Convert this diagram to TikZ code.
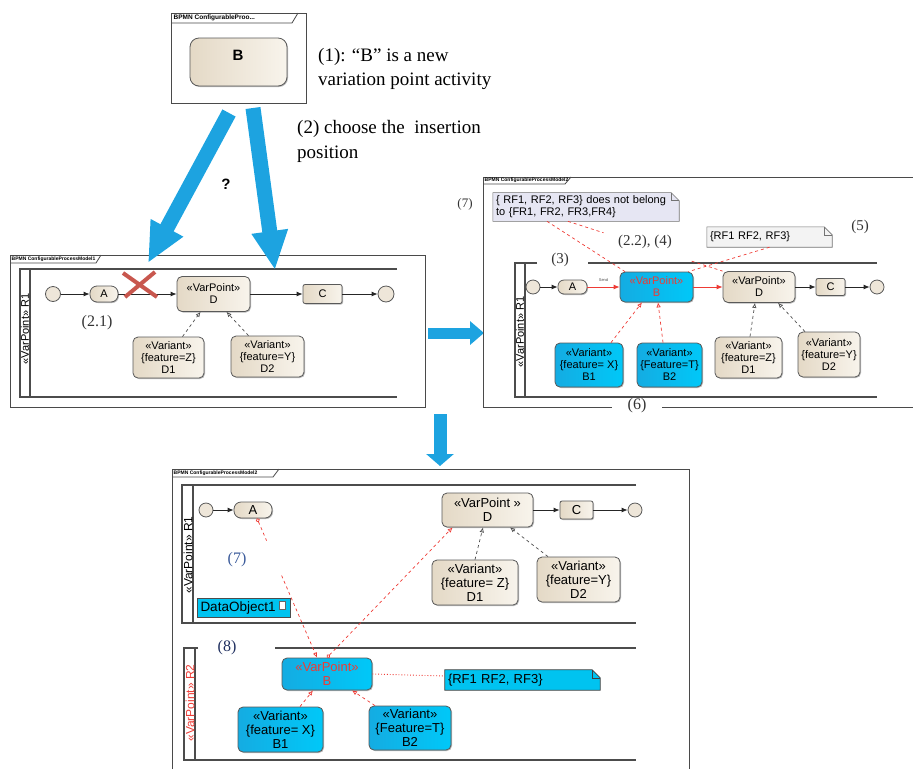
\documentclass[tikz,border=0pt]{standalone}
\usepackage{fontspec}
\setmainfont{Liberation Serif}
\setsansfont{Liberation Sans}
\usetikzlibrary{arrows.meta,calc,backgrounds,shadows}
\definecolor{beigeD}{HTML}{E4D9C6}
\definecolor{beigeL}{HTML}{F8F4EC}
\definecolor{cyanD}{HTML}{14ACE2}
\definecolor{cyanL}{HTML}{00C8F8}
\definecolor{bluearrow}{HTML}{1DA3E0}
\definecolor{redline}{HTML}{EE3B35}
\definecolor{xred}{HTML}{C8574E}
\definecolor{noteA}{HTML}{E6E6F3}
\definecolor{noteB}{HTML}{F3F3F3}
\definecolor{noteC}{HTML}{00C3F0}
\definecolor{framegray}{HTML}{4A4A4A}
\definecolor{labblue}{HTML}{3A5A9A}
\definecolor{labnavy}{HTML}{1F2F5F}
\tikzset{
  act/.style={draw=black!65, line width=0.8pt, left color=beigeD, right color=beigeL,
    rounded corners=5pt, align=center, inner sep=0pt, font=\sffamily\fontsize{11}{12}\selectfont,
    drop shadow={shadow xshift=1pt, shadow yshift=-1pt, fill=black!40, opacity=0.7}},
  bact/.style={act, left color=cyanD, right color=cyanL},
  actB/.style={act, font=\sffamily\fontsize{13}{14}\selectfont},
  bactB/.style={bact, font=\sffamily\fontsize{13}{14}\selectfont},
  evt/.style={circle, draw=black!65, line width=0.8pt, fill=beigeD!50!beigeL, minimum size=15pt, inner sep=0pt},
  flow/.style={-{Latex[length=6pt,width=5pt]}, line width=0.8pt, draw=black!85},
  rflow/.style={-{Latex[length=6pt,width=5pt]}, line width=0.8pt, draw=redline},
  vdep/.style={-{Latex[open,length=5pt,width=4.5pt]}, dashed, line width=0.7pt, draw=black!70},
  rdep/.style={-{Latex[open,length=5pt,width=4.5pt]}, dashed, line width=0.7pt, draw=redline},
  rdash/.style={dashed, line width=0.7pt, draw=redline},
  frameline/.style={draw=framegray, line width=0.8pt},
  laneline/.style={draw=black!70, line width=1.1pt},
  tabtext/.style={font=\sffamily\bfseries\fontsize{5}{5}\selectfont, anchor=west, inner sep=0.5pt},
  numlab/.style={font=\fontsize{16}{18}\selectfont, text=black!80, inner sep=0pt},
  lanelab/.style={rotate=90, font=\sffamily\fontsize{11}{11}\selectfont, inner sep=0pt},
  notetxt/.style={align=left, inner sep=3pt, font=\sffamily\fontsize{11}{12}\selectfont},
}
\begin{document}
\begin{tikzpicture}[x=1pt,y=-1pt]
\useasboundingbox (0,0) rectangle (913,769);

% ---------------- top element ----------------
\draw[frameline] (171,13) rectangle (306,103);
\draw[frameline] (171,23) -- (292,23) -- (298,13);
\node[tabtext, font=\sffamily\bfseries\fontsize{6.5}{6.5}\selectfont] (tabtop) at (173,18) {BPMN ConfigurableProo...};
\node[act, minimum width=97pt, minimum height=48pt, rounded corners=9pt] (Bnew) at (238.5,62) {};
\node[font=\sffamily\bfseries\fontsize{15}{15}\selectfont] (Bnewtxt) at (238,55) {B};
\node[font=\fontsize{19}{24}\selectfont, align=left, anchor=west, inner sep=0pt] (t1) at (318,69) {(1): “B” is a new\\variation point activity};
\node[font=\fontsize{19}{25}\selectfont, align=left, anchor=west, inner sep=0pt] (t2) at (297,141) {(2) choose the~ insertion\\position};
\node[font=\sffamily\bfseries\fontsize{15}{15}\selectfont] (qm) at (226,184) {?};

% ---------------- left panel ----------------
\draw[frameline] (10,255) rectangle (425,407);
\draw[frameline] (10,263) -- (96,263) -- (101,255);
\node[tabtext] (tabL) at (11,259) {BPMN ConfigurableProcessModel1};
\draw[laneline] (397,269) -- (20,269) -- (20,397) -- (397,397);
\draw[laneline] (30,269) -- (30,397);
\node[lanelab] (laneL) at (25,329) {«VarPoint» R1};

\node[evt] (s1) at (53,294) {};
\node[act, minimum width=28pt, minimum height=16pt, rounded corners=7pt] (A1) at (104,294) {A};
\node[act, minimum width=73pt, minimum height=35pt] (D0) at (213.5,294) {«VarPoint»\\D};
\node[act, minimum width=39pt, minimum height=19pt, rounded corners=2pt] (C0) at (322.5,294) {C};
\node[evt, minimum size=16pt] (e1) at (386,294) {};
\node[act, minimum width=71pt, minimum height=41pt] (D1a) at (168.5,357.5) {«Variant»\\\{feature=Z\}\\D1};
\node[act, minimum width=73pt, minimum height=41pt] (D2a) at (267.5,356.5) {«Variant»\\\{feature=Y\}\\D2};
\draw[flow] (s1) -- (A1);
\draw[flow] (A1) -- (D0);
\draw[flow] (D0) -- (C0);
\draw[flow] (C0) -- (e1);
\draw[vdep] ($(D1a.north)+(14,0)$) -- ($(D0.south)+(-13,0)$);
\draw[vdep] ($(D2a.north)+(-19,0)$) -- ($(D0.south)+(13,0)$);
\draw[xred, line width=4pt] (123,273) -- (157,297) (125,297) -- (155,272);
\node[numlab] (l21) at (97,323) {(2.1)};

% big blue arrows from the top element
\coordinate (arrLs) at (229,113);
\coordinate (arrLe) at (148,263);
\coordinate (arrRs) at (253,108);
\coordinate (arrRe) at (275,270);
\draw[bluearrow, line width=15pt, -{Triangle[length=40pt,width=34pt]}] (arrLs) -- (arrLe);
\draw[bluearrow, line width=15pt, -{Triangle[length=39pt,width=34pt]}] (arrRs) -- (arrRe);

% middle arrows
\coordinate (arrMs) at (428,333);
\coordinate (arrMe) at (484,333);
\coordinate (arrDs) at (440,414);
\coordinate (arrDe) at (440,466);
\draw[bluearrow, line width=11pt, -{Triangle[length=14pt,width=23pt]}] (arrMs) -- (arrMe);
\draw[bluearrow, line width=13pt, -{Triangle[length=12pt,width=27pt]}] (arrDs) -- (arrDe);

% ---------------- right panel ----------------
\draw[frameline] (913,177) -- (483,177) -- (483,407) -- (612,407);
\draw[frameline] (662,407) -- (913,407);
\draw[frameline] (483,184) -- (565,184) -- (571,177);
\node[tabtext] (tabR) at (484,180.5) {BPMN ConfigurableProcessModel2};
\draw[laneline] (537,263) -- (515,263) -- (515,397) -- (877,397);
\draw[laneline] (588,263) -- (877,263);
\draw[laneline] (525,263) -- (525,397);
\node[lanelab] (laneR) at (520,332) {«VarPoint» R1};

\node[evt, minimum size=14pt] (s2) at (533,287) {};
\node[act, minimum width=29pt, minimum height=14pt, rounded corners=6pt] (A2) at (572.5,287) {A};
\node[bact, minimum width=73pt, minimum height=30pt, text=redline] (B2v) at (656.5,287) {«VarPoint»\\B};
\node[act, minimum width=72pt, minimum height=31pt] (D2v) at (759,287) {«VarPoint»\\D};
\node[act, minimum width=29pt, minimum height=17pt, rounded corners=2pt] (C2) at (830.5,287) {C};
\node[evt, minimum size=14pt] (e2) at (877,287) {};
\node[bact, minimum width=68pt, minimum height=44pt] (B1r) at (589,365) {«Variant»\\\{feature= X\}\\B1};
\node[bact, minimum width=65pt, minimum height=44pt] (B2r) at (669.5,365) {«Variant»\\\{Feature=T\}\\B2};
\node[act, minimum width=67pt, minimum height=41pt] (D1r) at (748.5,357.5) {«Variant»\\\{feature=Z\}\\D1};
\node[act, minimum width=62pt, minimum height=45pt] (D2r) at (829,354.5) {«Variant»\\\{feature=Y\}\\D2};
\draw[flow] (s2) -- (A2);
\draw[rflow] (A2) -- node[above=2pt, font=\sffamily\fontsize{4}{4}\selectfont, text=black!70] (sendlab) {Send} (B2v);
\draw[rflow] (B2v) -- (D2v);
\draw[flow] (D2v) -- (C2);
\draw[flow] (C2) -- (e2);
\draw[rdep] ($(B1r.north)+(22,0)$) -- ($(B2v.south)+(-14.5,0)$);
\draw[rdep] ($(B2r.north)+(-6.5,0)$) -- ($(B2v.south)+(1.5,0)$);
\draw[vdep] ($(D1r.north)+(1.5,0)$) -- ($(D2v.south)+(-4,0)$);
\draw[vdep] ($(D2r.north)+(-24,0)$) -- ($(D2v.south)+(19,0)$);

\node[notetxt, text width=180pt, minimum height=28pt] (N1) at (586,207) {\{ RF1, RF2, RF3\} does not belong\\to \{FR1, FR2, FR3,FR4\}};
\node[notetxt, text width=119pt, minimum height=20pt] (N2) at (769.5,237) {\{RF1 RF2, RF3\}};
\begin{scope}[on background layer]
  \filldraw[fill=noteA, draw=black!55, line width=0.6pt] (N1.north west) -- ($(N1.north east)+(-8,0)$) -- ($(N1.north east)+(0,8)$) -- (N1.south east) -- (N1.south west) -- cycle;
  \draw[draw=black!55, line width=0.6pt] ($(N1.north east)+(-8,0)$) -- ($(N1.north east)+(-8,8)$) -- ($(N1.north east)+(0,8)$);
  \filldraw[fill=noteB, draw=black!55, line width=0.6pt] (N2.north west) -- ($(N2.north east)+(-8,0)$) -- ($(N2.north east)+(0,8)$) -- (N2.south east) -- (N2.south west) -- cycle;
  \draw[draw=black!55, line width=0.6pt] ($(N2.north east)+(-8,0)$) -- ($(N2.north east)+(-8,8)$) -- ($(N2.north east)+(0,8)$);
\end{scope}
\draw[rdash] ($(N1.south)+(-39,0)$) -- ($(B2v.north)+(-31.5,0)$);
\coordinate (n1d) at ($(N1.south)+(-18,0)$);
\draw[rdash] (n1d) -- ($(n1d)!0.23!(D2v.north west)$);
\draw[rdash] ($(n1d)!0.80!(D2v.north west)$) -- (D2v.north west);
\draw[rdash] (N2.south) -- ($(B2v.north east)+(-5,0)$);

\node[numlab, font=\fontsize{13}{14}\selectfont] (l7a) at (465,204) {(7)};
\node[numlab, font=\fontsize{15}{16}\selectfont] (l22) at (645,242) {(2.2), (4)};
\node[numlab, font=\fontsize{15}{16}\selectfont] (l3) at (560,260) {(3)};
\node[numlab, font=\fontsize{15}{16}\selectfont] (l5) at (860,227) {(5)};
\node[numlab] (l6) at (637,406) {(6)};

% ---------------- bottom panel ----------------
\draw[frameline] (172,769) -- (172,469) -- (689,469) -- (689,769);
\draw[frameline] (172,477) -- (273,477) -- (279,469);
\node[tabtext] (tabB) at (173,473) {BPMN ConfigurableProcessModel2};
\draw[laneline] (636,485) -- (182,485) -- (182,623) -- (636,623);
\draw[laneline] (193,485) -- (193,623);
\node[lanelab, font=\sffamily\fontsize{12}{12}\selectfont] (laneB1) at (188,555) {«VarPoint» R1};
\draw[laneline] (198,648) -- (184,648) -- (184,760) -- (636,760);
\draw[laneline] (275,648) -- (636,648);
\draw[laneline] (195,648) -- (195,760);
\node[lanelab, font=\sffamily\fontsize{12}{12}\selectfont, text=redline] (laneB2) at (190,703) {«VarPoint» R2};

\node[evt, minimum size=14pt] (s3) at (206,510) {};
\node[actB, minimum width=38pt, minimum height=16pt, rounded corners=7pt] (A3) at (253,510) {A};
\node[actB, minimum width=91pt, minimum height=34pt] (D3) at (487.5,510) {«VarPoint »\\D};
\node[actB, minimum width=33pt, minimum height=18pt, rounded corners=2pt] (C3) at (576.5,510) {C};
\node[evt, minimum size=14pt] (e3) at (635,510) {};
\node[actB, minimum width=86pt, minimum height=45pt] (D1b) at (475,582.5) {«Variant»\\\{feature= Z\}\\D1};
\node[actB, minimum width=83pt, minimum height=45pt] (D2b) at (578.5,579.5) {«Variant»\\\{feature=Y\}\\D2};
\node[draw=black!70, line width=0.8pt, fill=noteC, minimum width=93pt, minimum height=19pt, text width=86pt, align=left, inner sep=2pt, font=\sffamily\fontsize{13.5}{14}\selectfont] (DO) at (243.5,607.5) {DataObject1};
\filldraw[fill=white, draw=black!60, line width=0.5pt] ($(DO.east)+(-11,-6)$) rectangle ($(DO.east)+(-5,2)$);
\node[bactB, minimum width=90pt, minimum height=32pt, text=redline] (B3) at (327,674) {«VarPoint»\\B};
\node[bactB, minimum width=85pt, minimum height=45pt] (B1b) at (280.5,729.5) {«Variant»\\\{feature= X\}\\B1};
\node[bactB, minimum width=82pt, minimum height=44pt] (B2b) at (410,728) {«Variant»\\\{Feature=T\}\\B2};
\node[notetxt, text width=149pt, minimum height=20pt, font=\sffamily\fontsize{13}{14}\selectfont] (N3) at (522.5,680) {\{RF1 RF2, RF3\}};
\begin{scope}[on background layer]
  \filldraw[fill=noteC, draw=black!75, line width=0.8pt] (N3.north west) -- ($(N3.north east)+(-8,0)$) -- ($(N3.north east)+(0,8)$) -- (N3.south east) -- (N3.south west) -- cycle;
  \draw[draw=black!75, line width=0.6pt] ($(N3.north east)+(-8,0)$) -- ($(N3.north east)+(-8,8)$) -- ($(N3.north east)+(0,8)$);
\end{scope}
\draw[flow] (s3) -- (A3);
\draw[flow] (D3) -- (C3);
\draw[flow] (C3) -- (e3);
\draw[vdep] (D1b.north) -- ($(D3.south)+(-4.5,0)$);
\draw[vdep] ($(D2b.north)+(-30.5,0)$) -- ($(D3.south)+(22.5,0)$);
\draw[rdep] ($(B1b.north)+(19.5,0)$) -- ($(B3.south)+(-14,0)$);
\draw[rdep] ($(B2b.north)+(-35,0)$) -- ($(B3.south)+(25,0)$);
\coordinate (a3s) at ($(A3.south)+(4,0)$);
\coordinate (b3t) at ($(B3.north)+(-10,0)$);
\draw[rdash, {Circle[open,length=4pt,width=4pt]}-] (a3s) -- ($(a3s)!0.16!(b3t)$);
\draw[rdep] ($(a3s)!0.41!(b3t)$) -- (b3t);
\draw[rdep, {Circle[open,length=4pt,width=4pt]}-{Latex[open,length=5pt,width=4.5pt]}] (B3.north) -- ($(D3.south west)+(11,0)$);
\draw[redline, dotted, line width=0.9pt] (B3.east) -- ($(N3.west)+(0,-4)$);
\node[numlab, text=labblue] (l7b) at (237,560) {(7)};
\node[numlab, text=labnavy] (l8) at (227,648) {(8)};
\end{tikzpicture}
\end{document}
